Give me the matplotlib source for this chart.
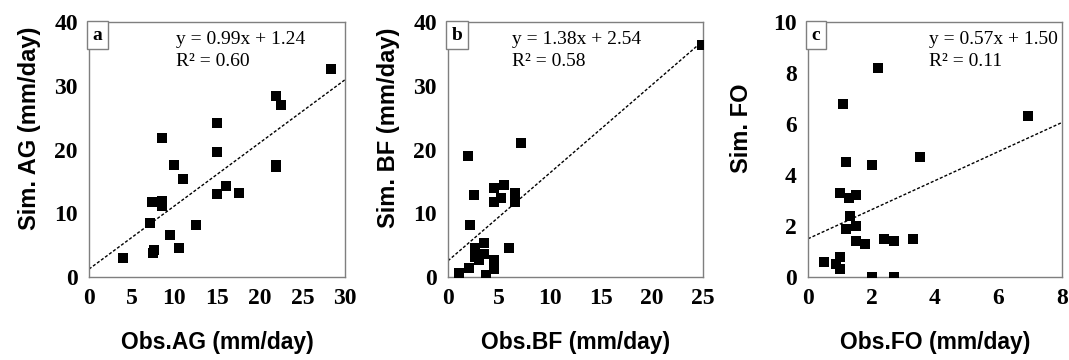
import matplotlib
matplotlib.use('Agg')
import matplotlib.pyplot as plt
import numpy as np

# Observed vs simulated values (mm/day)
obs_ag = [4.0, 28.4, 21.9, 22.5, 15.0, 15.0, 21.9, 21.9, 8.5, 10.0, 11.0, 16.0,
          15.0, 17.6, 7.4, 8.5, 8.6, 7.2, 12.5, 9.5, 10.5, 7.6, 7.5]
sim_ag = [3.0, 32.6, 28.4, 27.0, 24.1, 19.6, 17.6, 17.2, 21.8, 17.5, 15.3, 14.2,
          13.0, 13.1, 11.8, 11.9, 11.2, 8.5, 8.2, 6.6, 4.6, 4.2, 3.7]

obs_bf = [24.9, 7.2, 2.0, 2.5, 4.5, 5.5, 6.6, 4.5, 5.2, 6.6, 2.2, 3.5, 2.6, 6.0,
          2.6, 3.5, 3.0, 4.5, 4.5, 4.5, 2.1, 1.1, 3.7]
sim_bf = [36.4, 21.0, 19.0, 12.9, 14.0, 14.4, 13.1, 11.8, 12.4, 11.7, 8.2, 5.4,
          4.6, 4.6, 3.1, 3.6, 2.7, 2.7, 2.0, 1.3, 1.4, 0.6, 0.3]

obs_fo = [2.22, 1.10, 6.92, 3.52, 1.20, 2.02, 1.00, 1.28, 1.51, 1.31, 1.20, 1.51,
          1.51, 1.80, 2.40, 2.70, 3.31, 0.50, 1.00, 0.89, 1.00, 2.02, 2.70]
sim_fo = [8.2, 6.8, 6.3, 4.7, 4.5, 4.4, 3.3, 3.1, 3.2, 2.4, 1.9, 2.0,
          1.4, 1.3, 1.5, 1.4, 1.5, 0.6, 0.8, 0.5, 0.3, 0.0, 0.0]

panels = [
    dict(letter='a', x=obs_ag, y=sim_ag, slope=0.99, icpt=1.24, r2='0.60',
         xlim=30, xticks=[0, 5, 10, 15, 20, 25, 30], ylim=40, yticks=[0, 10, 20, 30, 40],
         xlabel='Obs.AG (mm/day)', ylabel='Sim. AG (mm/day)', eqx=176),
    dict(letter='b', x=obs_bf, y=sim_bf, slope=1.38, icpt=2.54, r2='0.58',
         xlim=25, xticks=[0, 5, 10, 15, 20, 25], ylim=40, yticks=[0, 10, 20, 30, 40],
         xlabel='Obs.BF (mm/day)', ylabel='Sim. BF (mm/day)', eqx=512),
    dict(letter='c', x=obs_fo, y=sim_fo, slope=0.57, icpt=1.50, r2='0.11',
         xlim=8, xticks=[0, 2, 4, 6, 8], ylim=10, yticks=[0, 2, 4, 6, 8, 10],
         xlabel='Obs.FO (mm/day)', ylabel='Sim. FO', eqx=929),
]

W, H = 1069, 360
fig = plt.figure(figsize=(W / 100, H / 100), dpi=100)

lefts = [89, 448, 808]
rights = [345, 703, 1062]
top, bottom = 22, 277
ylab_x = [30, 388, 742]

for p, l, r, yl in zip(panels, lefts, rights, ylab_x):
    ax = fig.add_axes([l / W, 1 - bottom / H, (r - l) / W, (bottom - top) / H])
    ax.scatter(p['x'], p['y'], marker='s', s=62, color='black', linewidths=0, zorder=3)
    xs = np.array([0, p['xlim']])
    ax.plot(xs, p['slope'] * xs + p['icpt'], color='black', lw=1,
            linestyle=(0, (2.2, 1.4)), zorder=2)
    ax.set_xlim(0, p['xlim'])
    ax.set_ylim(0, p['ylim'])
    ax.set_xticks(p['xticks'])
    ax.set_yticks(p['yticks'])
    ax.tick_params(length=0, labelsize=17, pad=8)
    for lab in ax.get_xticklabels() + ax.get_yticklabels():
        lab.set_fontfamily('Liberation Serif')
        lab.set_fontweight('bold')
    for s in ax.spines.values():
        s.set_color('#7f7f7f')
        s.set_linewidth(1)

    # panel letter in a box
    ax.text(0.014, 0.982, p['letter'], transform=ax.transAxes, ha='left', va='top',
            fontfamily='Liberation Serif', fontweight='bold', fontsize=14,
            bbox=dict(boxstyle='square,pad=0.3', fc='white', ec='#7f7f7f', lw=1))

    # regression equation
    fig.text(p['eqx'] / W, 1 - 39 / H, 'y = %.2fx + %.2f' % (p['slope'], p['icpt']),
             ha='left', va='center', fontfamily='Liberation Serif', fontsize=14)
    fig.text(p['eqx'] / W, 1 - 62 / H, 'R² = ' + p['r2'],
             ha='left', va='center', fontfamily='Liberation Serif', fontsize=14)

    fig.text((l + r) / 2 / W, 1 - 342 / H, p['xlabel'], ha='center', va='center',
             fontfamily='Liberation Sans', fontweight='bold', fontsize=16.5)
    fig.text(yl / W, 1 - 128 / H, p['ylabel'], ha='center', va='center', rotation=90,
             fontfamily='Liberation Sans', fontweight='bold', fontsize=17)

fig.savefig('out.png', dpi=100)
